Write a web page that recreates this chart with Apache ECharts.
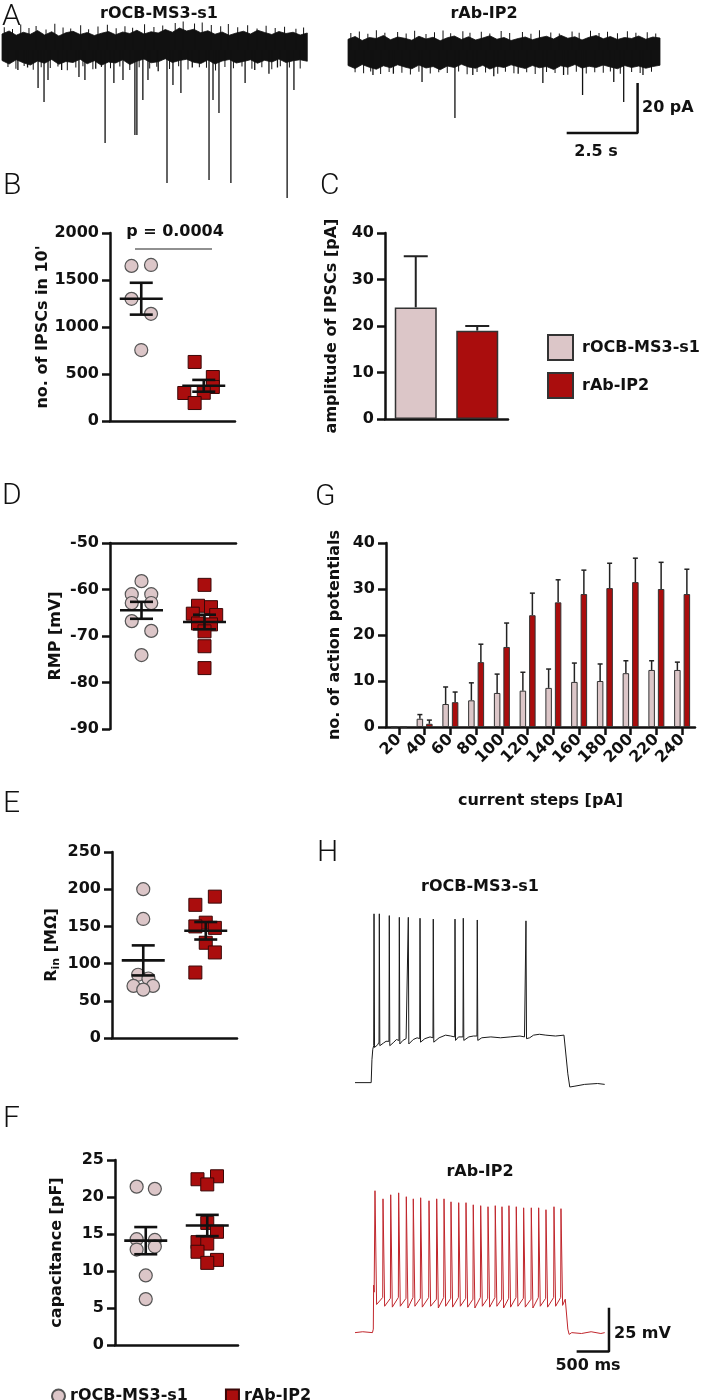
<!DOCTYPE html>
<html><head><meta charset="utf-8">
<script src="https://cdn.jsdelivr.net/npm/echarts@6/dist/echarts.min.js"></script>
<style>html,body{margin:0;padding:0;background:#fff}#c{width:704px;height:1400px}</style>
</head><body><div id="c"></div>
<script>
// ================= DATA =================
// Panel A – spontaneous IPSC traces: noise envelope (pA) sampled every 0.25 s
const aStep = 0.25;
const a1Top = [6.4,7.6,5.9,7.1,6.3,7.8,6.0,7.3,5.6,6.9,7.5,6.2,7.0,5.8,6.7,7.4,6.1,7.2,6.6,7.9,6.4,7.3,6.8,8.2,7.1,8.8,7.6,8.3,6.9,7.7,6.3,7.2,5.9,6.8,7.5,6.4,7.9,7.0,6.2,7.4,6.6,7.1,6.0,6.8];
const a1Bot = [-4.2,-5.6,-3.9,-5.1,-6.0,-4.4,-5.3,-3.8,-5.7,-4.6,-5.0,-3.7,-5.5,-4.3,-6.1,-4.8,-5.2,-3.9,-5.8,-4.5,-3.6,-5.1,-4.7,-3.5,-5.0,-4.2,-3.7,-4.9,-5.4,-4.0,-5.6,-4.4,-3.8,-5.2,-4.6,-3.9,-5.3,-4.1,-4.8,-3.6,-5.0,-4.3,-3.9,-4.5];
const a1NoiseT = [0.08,0.21,0.37,0.49,0.66,0.78,0.95,1.1,1.2,1.38,1.55,1.7,1.86,1.97,2.15,2.3,2.42,2.6,2.77,2.85,3.05,3.2,3.38,3.5,3.71,3.82,4.02,4.15,4.33,4.5,4.6,4.83,5.02,5.2,5.35,5.45,5.66,5.9,6.1,6.22,6.38,6.55,6.78,6.95,7.05,7.2,7.37,7.52,7.7,7.85,7.97,8.15,8.3,8.45,8.65,8.8,8.98,9.15,9.3,9.5,9.62,9.8,9.95,10.12,10.35,10.5,10.62];
const a1NoiseV = [9.1,-6.8,8.4,-7.5,10.2,-6.4,8.8,-7.9,9.6,-6.9,8.2,-7.2,10.5,-6.6,9.0,-8.1,8.6,-7.0,9.9,-6.5,8.3,-7.7,9.4,-6.8,10.1,-7.3,8.7,-6.6,9.5,-8.0,8.9,-6.9,10.3,-7.4,9.2,-6.7,9.8,-7.6,10.8,-6.5,11.4,-7.8,10.6,-6.9,11.0,-7.1,10.0,-8.2,9.5,-6.8,10.4,-7.3,9.1,-6.6,9.9,-7.5,8.6,-6.9,9.7,-7.7,8.8,-6.5,9.3,-7.0,8.5,-7.4,9.0];
const a1SpikeT = [0.56,0.9,1.27,1.48,1.62,2.1,2.71,2.92,3.3,3.63,3.94,4.26,4.68,4.75,4.96,5.14,5.5,5.81,6.02,6.3,6.7,7.29,7.43,7.64,8.06,8.56,8.9,9.4,9.7,10.04,10.28];
const a1SpikeAmp = [-8,-7,-15.2,-20.8,-12,-8,-10.8,-12,-7.5,-37.2,-13.2,-12,-34,-34,-20,-12,-8.5,-53.2,-14,-17.2,-7,-52,-20,-25.2,-53.2,-13.2,-8,-9.5,-7,-59.2,-16];
const a2Top = [4.3,5.4,3.8,5.0,4.6,5.8,4.1,5.2,4.7,3.9,5.5,4.4,5.1,3.7,4.9,5.6,4.2,5.3,4.0,4.8,5.7,4.3,5.0,3.8,4.6,5.2,4.1,4.9,5.5,4.4,5.9,4.7,5.3,4.0,5.1,5.8,4.5,5.4,4.2,5.0,4.6,5.6,4.3,5.2,4.8];
const a2Bot = [-6.2,-7.4,-5.8,-6.9,-7.7,-6.3,-7.1,-5.9,-6.8,-7.5,-6.0,-7.2,-6.6,-7.9,-6.4,-7.0,-5.7,-6.8,-7.3,-6.1,-7.6,-6.5,-7.0,-5.9,-6.7,-7.4,-6.2,-7.1,-6.6,-7.8,-6.3,-6.9,-5.8,-7.2,-6.5,-7.0,-6.0,-6.8,-7.5,-6.2,-7.0,-6.4,-7.3,-6.6,-6.1];
const a2NoiseT = [0.1,0.25,0.4,0.55,0.7,0.8,1.0,1.15,1.3,1.45,1.75,1.9,2.05,2.2,2.35,2.5,2.75,2.9,3.05,3.2,3.35,3.5,3.62,3.9,4.05,4.2,4.3,4.55,4.7,4.85,5.0,5.28,5.4,5.55,5.7,5.85,6.15,6.3,6.45,6.6,6.75,7.0,7.15,7.3,7.45,7.75,7.9,8.05,8.15,8.4,8.55,8.7,8.85,9.0,9.15,9.25,9.5,9.6,9.85,10.0,10.15,10.3,10.55,10.7,10.85];
const a2NoiseV = [6.8,-8.9,7.4,-9.3,6.5,-8.6,7.9,-9.6,6.9,-8.8,7.2,-9.1,6.6,-9.8,7.7,-8.7,6.4,-9.4,7.1,-8.9,7.8,-9.2,6.7,-8.6,7.5,-9.7,6.9,-8.8,7.3,-9.0,6.6,-9.5,7.6,-8.7,6.8,-9.3,7.2,-8.9,6.5,-9.6,7.9,-8.8,7.0,-9.2,6.6,-9.9,7.4,-8.7,6.9,-9.4,7.7,-8.9,6.8,-9.1,7.3,-8.6,6.7,-9.5,7.5,-8.8,6.9,-9.2,7.1,-8.7,6.6];
const a2SpikeT = [0.88,1.6,2.61,3.77,4.4,5.14,6.0,6.87,7.6,8.27,9.37,9.72,10.4];
const a2SpikeAmp = [-10,-9.5,-12.8,-27.2,-10,-10.5,-9.5,-13.2,-10,-18,-12.8,-20.8,-10];
const scaleA = {t: 10.21, i: -33.2, dt: 2.5, di: 20};   // 2.5 s / 20 pA

// Panel B – no. of IPSCs in 10'
const bOcb = [1650, 1660, 1300, 1140, 755];
const bAb  = [628, 468, 362, 300, 298, 191];
const pText = 'p = 0.0004', pLevel = 1830;
// Panel C – amplitude of IPSCs [pA]
const cMean = [24, 19];
const cSem  = [11, 1];
// Panel D – RMP [mV]
const dOcb = [-58.2, -61, -61, -62.9, -62.9, -66.8, -68.9, -74.1];
const dAb  = [-59, -63.5, -63.8, -65.2, -65.5, -67.3, -67.5, -69, -72.2, -76.9];
// Panel E – Rin [MΩ]
const eOcb = [200, 160, 85, 80, 70, 70, 65];
const eAb  = [190, 179, 155, 150, 148, 128, 115, 88];
// Panel F – capacitance [pF]
const fOcb = [21.4, 21.1, 14.3, 14.2, 13.3, 12.9, 9.4, 6.2];
const fAb  = [22.8, 22.4, 21.7, 16.5, 15.3, 13.9, 13.7, 12.6, 11.5, 11.1];
// Panel G – no. of action potentials vs current steps
const gSteps = ['20','40','60','80','100','120','140','160','180','200','220','240'];
const gOcb    = [0, 1.8, 5.0, 5.8, 7.4, 7.9, 8.5, 9.8, 10.0, 11.7, 12.4, 12.4];
const gOcbErr = [0, 0.9, 3.7, 3.8, 4.1, 4.0, 4.1, 4.1, 3.7, 2.7, 2.0, 1.7];
const gAb     = [0, 0.7, 5.4, 14.1, 17.4, 24.3, 27.1, 28.9, 30.2, 31.5, 30.0, 28.9];
const gAbErr  = [0, 0.8, 2.2, 3.9, 5.2, 4.8, 4.9, 5.2, 5.4, 5.2, 5.8, 5.4];
// Panel H – current-clamp traces (ms, mV)
const hOcbPlatT = [0,250,262,275,350,440,480,600,640,740,790,900,960,1080,1160,1300,1400,1480,1600,1760,1830,1960,2100,2250,2400,2550,2620,2700,2760,2850,2950,3100,3230,3255,3290,3320,3400,3550,3750,3860];
const hOcbPlatV = [-65,-65,-52,-46,-43.5,-42.5,-41.5,-42,-40.5,-41,-40,-40.5,-39.5,-40,-39,-39.5,-38,-38.5,-39,-39,-38.5,-39.5,-39,-39.5,-39,-38.5,-39,-39.5,-38,-37.5,-38,-38.5,-38,-39,-60,-67.5,-67,-66,-65.5,-66];
const hOcbSpikeT = [294,376,530,685,824,1005,1210,1546,1674,1890,2643];
const hOcbThr    = [-44,-42,-41.5,-41,-40.5,-40,-39.5,-39,-39,-38.5,-38.5];
const hOcbPeak   = [31,31,30,29,29,28.5,28,28,28.5,27.5,27];
const hOcbTrough = [-45,-44,-44,-43,-43,-42,-42,-41,-41,-41,-40];
const hAbPlatT = [0,120,270,283,288,296,3250,3272,3290,3310,3350,3500,3650,3800,3860];
const hAbPlatV = [-65,-64.5,-65,-63,-38,-42,-46,-47,-63,-66,-65,-65.5,-64.5,-65.5,-65];
const hAbSpikeT = [309,433,552,675,793,901,1015,1144,1263,1376,1484,1603,1716,1828,1943,2056,2168,2272,2380,2493,2607,2725,2839,2952,3076,3184];
const hAbThr    = [-42,-45,-45.5,-45,-45.5,-45,-45.5,-45,-46,-45,-45.5,-45,-45.5,-46,-45,-45.5,-45,-46,-45.5,-45,-45.5,-46,-45,-45.5,-45,-45];
const hAbPeak   = [15.7,11.1,13.4,14.5,12.3,11.1,11.7,10,11.1,11.1,9.4,8.9,8.9,7.7,7.2,6.6,7.2,6.6,7.2,6.6,6,6,6,4.9,6.6,5.5];
const hAbTrough = [-49,-50,-50.5,-50,-51,-50,-50.5,-50,-51,-50,-50.5,-50,-50.5,-51,-50,-50.5,-50,-51,-50.5,-50,-50.5,-51,-50,-50.5,-50,-49.5];
const scaleH = {t: 3926, v: -75.8, dt: 500, dv: 25};   // 500 ms / 25 mV

// ================= LAYOUT (jitter slots in marker widths) =================
const bOcbSlot = [-0.75, 0.75, -0.75, 0.75, 0];
const bAbSlot  = [-0.7, 0.7, 0.7, 0, -1.5, -0.7];
const dOcbSlot = [0, -0.75, 0.75, -0.75, 0.75, -0.75, 0.75, 0];
const dAbSlot  = [0, -0.5, 0.5, -0.9, 0.9, -0.5, 0.5, 0, 0, 0];
const eOcbSlot = [0, 0, -0.4, 0.4, -0.75, 0.75, 0];
const eAbSlot  = [0.7, -0.8, 0, -0.8, 0.7, 0, 0.7, -0.8];
const fOcbSlot = [-0.7, 0.7, -0.7, 0.7, 0.7, -0.7, 0, 0];
const fAbSlot  = [0.75, -0.75, 0, 0, 0.75, -0.75, 0, -0.75, 0.75, 0];

const LIGHT = '#dcc6c8', RED = '#aa0d0d', INK = '#111';
const FONT = 'DejaVu Sans';
const LBL = {fontFamily: FONT, fontWeight: 'bold', fontSize: 16, color: INK};
const MS = 13;

const grids = [
  {left: 2,   top: 0,    width: 306, height: 200},  // 0 A1
  {left: 348, top: 0,    width: 312, height: 200},  // 1 A2
  {left: 110, top: 233,  width: 125, height: 188},  // 2 B
  {left: 385, top: 233,  width: 123, height: 186},  // 3 C
  {left: 110, top: 543,  width: 126, height: 186},  // 4 D
  {left: 386, top: 543,  width: 309, height: 184},  // 5 G
  {left: 112, top: 852,  width: 125, height: 186},  // 6 E
  {left: 115, top: 1160, width: 123, height: 185},  // 7 F
  {left: 355, top: 898,  width: 260, height: 211},  // 8 H1
  {left: 355, top: 1148, width: 260, height: 211}   // 9 H2
];

// ================= HELPERS =================
const mean = a => a.reduce((s, v) => s + v, 0) / a.length;
const sem = a => { const m = mean(a); return Math.sqrt(a.reduce((s, v) => s + (v - m) * (v - m), 0) / (a.length - 1) / a.length); };
const AXL = {show: true, onZero: false, lineStyle: {color: INK, width: 2.5}};

function hidden(gi, min, max) { return {type: 'value', gridIndex: gi, min, max, show: false}; }
function valY(gi, min, max, interval, name, nameGap, extra) {
  return Object.assign({
    type: 'value', gridIndex: gi, min, max, interval,
    axisLine: AXL,
    axisTick: {show: true, length: 8, lineStyle: {color: INK, width: 2.5}},
    axisLabel: Object.assign({}, LBL, {margin: 11, formatter: v => String(v)}),
    splitLine: {show: false},
    name, nameLocation: 'middle', nameGap, nameRotate: 90,
    nameTextStyle: Object.assign({}, LBL)
  }, extra || {});
}
function plainX(gi, extra) {
  return Object.assign({type: 'value', gridIndex: gi, min: 0, max: 1, axisLine: AXL,
    axisTick: {show: false}, axisLabel: {show: false}, splitLine: {show: false}}, extra || {});
}
function dots(gi, vals, slots, gx, kind) {
  const unit = MS / grids[gi].width;
  const ocb = kind === 'ocb';
  return {type: 'scatter', name: ocb ? 'ocbDots' : 'abDots', xAxisIndex: gi, yAxisIndex: gi,
    symbol: ocb ? 'circle' : 'rect', symbolSize: MS, z: 2, silent: true,
    data: vals.map((v, i) => [gx + slots[i] * unit, v]),
    itemStyle: ocb ? {color: LIGHT, borderColor: '#555', borderWidth: 1.2, opacity: 1}
                   : {color: RED, borderColor: '#3a0808', borderWidth: 1, opacity: 1}};
}
function meanSem(gi, groups) {
  return {type: 'custom', coordinateSystem: 'cartesian2d', xAxisIndex: gi, yAxisIndex: gi, z: 5, silent: true,
    data: groups.map(g => [g[0], mean(g[1]), sem(g[1])]),
    renderItem: (p, api) => {
      const x = api.value(0), m = api.value(1), s = api.value(2);
      const c = api.coord([x, m]), t = api.coord([x, m + s]), b = api.coord([x, m - s]);
      const st = {stroke: INK, lineWidth: 2.6};
      return {type: 'group', children: [
        {type: 'line', shape: {x1: c[0] - 21.5, y1: c[1], x2: c[0] + 21.5, y2: c[1]}, style: st},
        {type: 'line', shape: {x1: c[0], y1: t[1], x2: c[0], y2: b[1]}, style: st},
        {type: 'line', shape: {x1: c[0] - 11.5, y1: t[1], x2: c[0] + 11.5, y2: t[1]}, style: st},
        {type: 'line', shape: {x1: c[0] - 11.5, y1: b[1], x2: c[0] + 11.5, y2: b[1]}, style: st}
      ]};
    }};
}
function errBars(gi, vals, errs, offset, capHalf, lw) {
  return {type: 'custom', coordinateSystem: 'cartesian2d', xAxisIndex: gi, yAxisIndex: gi, z: 1, silent: true,
    encode: {x: 0, y: 1},
    data: vals.map((v, i) => [i, v, errs[i]]),
    renderItem: (p, api) => {
      const e = api.value(2); if (!e) return;
      const b = api.coord([api.value(0), api.value(1)]);
      const t = api.coord([api.value(0), api.value(1) + e]);
      const x = b[0] + offset, st = {stroke: '#222', lineWidth: lw};
      return {type: 'group', children: [
        {type: 'line', shape: {x1: x, y1: b[1], x2: x, y2: t[1]}, style: st},
        {type: 'line', shape: {x1: x - capHalf, y1: t[1], x2: x + capHalf, y2: t[1]}, style: st}
      ]};
    }};
}
function band(gi, tops, bots) {
  return {type: 'custom', coordinateSystem: 'cartesian2d', xAxisIndex: gi, yAxisIndex: gi, silent: true,
    data: tops.map((v, i) => [i * aStep, v, bots[i]]),
    renderItem: (p, api) => {
      if (p.dataIndex !== 0) return;
      const up = tops.map((v, i) => api.coord([i * aStep, v]));
      const dn = bots.map((v, i) => api.coord([i * aStep, v])).reverse();
      return {type: 'polygon', shape: {points: up.concat(dn)}, style: {fill: INK, stroke: INK, lineWidth: 0.8}};
    }};
}
// vertical deflections (events / noise) drawn from the band core to their peak value
function strokes(gi, ts, amps, lw) {
  return {type: 'custom', coordinateSystem: 'cartesian2d', xAxisIndex: gi, yAxisIndex: gi, silent: true,
    data: ts.map((t, i) => [t, amps[i]]),
    renderItem: (p, api) => {
      const a = api.coord([api.value(0), 0]), b = api.coord([api.value(0), api.value(1)]);
      return {type: 'line', shape: {x1: a[0], y1: a[1], x2: b[0], y2: b[1]}, style: {stroke: INK, lineWidth: lw}};
    }};
}
function trace(platT, platV, spT, thr, pk, tr, fallMs) {
  const pts = platT.map((t, i) => [t, platV[i]]);
  spT.forEach((t, i) => { pts.push([t - 5, thr[i]], [t, pk[i]], [t + fallMs, tr[i]]); });
  pts.sort((a, b) => a[0] - b[0]);
  return pts;
}
function scaleBar(gi, x0, y0, dx, dy) {
  return {type: 'line', xAxisIndex: gi, yAxisIndex: gi, symbol: 'none', silent: true,
    data: [[x0 - dx, y0], [x0, y0], [x0, y0 + dy]], lineStyle: {color: INK, width: 2.5}};
}
function txt(text, x, y, font, align) {
  return {type: 'text', x, y, silent: true, style: {text, font, fill: INK, align: align || 'left', verticalAlign: 'middle'}};
}

// ================= OPTION =================
const BFONT = 'bold 16px "DejaVu Sans"';
const PFONT = '300 30px Roboto';
const option = {
  animation: false,
  grid: grids,
  xAxis: [
    hidden(0, 0, 10.775), hidden(1, 0, 11),
    plainX(2),
    {type: 'category', gridIndex: 3, data: ['rOCB-MS3-s1', 'rAb-IP2'], axisLine: AXL, axisTick: {show: false}, axisLabel: {show: false}},
    plainX(4, {position: 'top'}),
    {type: 'category', gridIndex: 5, data: gSteps, axisLine: AXL,
     axisTick: {show: true, alignWithLabel: true, length: 8, lineStyle: {color: INK, width: 2.5}},
     axisLabel: Object.assign({}, LBL, {rotate: 45, margin: 10, interval: 0}),
     name: 'current steps [pA]', nameLocation: 'middle', nameGap: 66, nameTextStyle: Object.assign({}, LBL)},
    plainX(6), plainX(7),
    hidden(8, 0, 4019), hidden(9, 0, 4019)
  ],
  yAxis: [
    hidden(0, -60, 20), hidden(1, -60, 20),
    valY(2, 0, 2000, 500, "no. of IPSCs in 10'", 57),
    valY(3, 0, 40, 10, 'amplitude of IPSCs [pA]', 45),
    valY(4, -90, -50, 10, 'RMP [mV]', 46),
    valY(5, 0, 40, 10, 'no. of action potentials', 43),
    valY(6, 0, 250, 50, '{r|R}{s|in}{r| [MΩ]}', 50, {nameTextStyle: {rich: {
      r: Object.assign({}, LBL), s: Object.assign({}, LBL, {fontSize: 11, padding: [10, 0, 0, 0]})}}}),
    valY(7, 0, 25, 5, 'capacitance [pF]', 50),
    hidden(8, -80, 40), hidden(9, -80, 40)
  ],
  legend: [
    {orient: 'vertical', left: 542, top: 329, itemWidth: 25, itemHeight: 25, itemGap: 11, selectedMode: false,
     icon: 'rect', data: ['rOCB-MS3-s1', 'rAb-IP2'], textStyle: Object.assign({}, LBL, {padding: [0, 0, 0, 4]})},
    {orient: 'horizontal', left: 46, top: 1383, itemWidth: 13, itemHeight: 13, itemGap: 37, selectedMode: false,
     data: [{name: 'ocbDots', icon: 'circle'}, {name: 'abDots', icon: 'rect'}],
     formatter: n => n === 'ocbDots' ? 'rOCB-MS3-s1' : 'rAb-IP2', textStyle: Object.assign({}, LBL)}
  ],
  series: [
    // A
    band(0, a1Top, a1Bot), strokes(0, a1NoiseT, a1NoiseV, 1), strokes(0, a1SpikeT, a1SpikeAmp, 1.3),
    band(1, a2Top, a2Bot), strokes(1, a2NoiseT, a2NoiseV, 1), strokes(1, a2SpikeT, a2SpikeAmp, 1.3),
    scaleBar(1, scaleA.t, scaleA.i, scaleA.dt, scaleA.di),
    // C bars
    {type: 'bar', name: 'rOCB-MS3-s1', xAxisIndex: 3, yAxisIndex: 3, stack: 'c', barWidth: 42,
     data: [cMean[0], '-'], itemStyle: {color: LIGHT, borderColor: '#333', borderWidth: 1.5}},
    {type: 'bar', name: 'rAb-IP2', xAxisIndex: 3, yAxisIndex: 3, stack: 'c', barWidth: 42,
     data: ['-', cMean[1]], itemStyle: {color: RED, borderColor: '#333', borderWidth: 1.5}},
    errBars(3, cMean, cSem, 0, 12, 2),
    // B
    dots(2, bOcb, bOcbSlot, 0.25, 'ocb'), dots(2, bAb, bAbSlot, 0.75, 'ab'),
    meanSem(2, [[0.25, bOcb], [0.75, bAb]]),
    {type: 'line', xAxisIndex: 2, yAxisIndex: 2, symbol: 'none', silent: true,
     data: [[0.2, pLevel], [0.816, pLevel]], lineStyle: {color: '#222', width: 1.2}},
    // D
    dots(4, dOcb, dOcbSlot, 0.25, 'ocb'), dots(4, dAb, dAbSlot, 0.75, 'ab'),
    meanSem(4, [[0.25, dOcb], [0.75, dAb]]),
    // E
    dots(6, eOcb, eOcbSlot, 0.25, 'ocb'), dots(6, eAb, eAbSlot, 0.75, 'ab'),
    meanSem(6, [[0.25, eOcb], [0.75, eAb]]),
    // F
    dots(7, fOcb, fOcbSlot, 0.25, 'ocb'), dots(7, fAb, fAbSlot, 0.75, 'ab'),
    meanSem(7, [[0.25, fOcb], [0.75, fAb]]),
    // G
    {type: 'bar', name: 'rOCB-MS3-s1', xAxisIndex: 5, yAxisIndex: 5, barWidth: 6.5, barGap: '46%',
     data: gOcb, itemStyle: {color: LIGHT, borderColor: '#333', borderWidth: 1}},
    {type: 'bar', name: 'rAb-IP2', xAxisIndex: 5, yAxisIndex: 5, barWidth: 6.5, barGap: '46%',
     data: gAb, itemStyle: {color: RED, borderColor: '#333', borderWidth: 1}},
    errBars(5, gOcb, gOcbErr, -4.75, 2.5, 1.5),
    errBars(5, gAb, gAbErr, 4.75, 2.5, 1.5),
    // H
    {type: 'line', xAxisIndex: 8, yAxisIndex: 8, symbol: 'none', silent: true,
     data: trace(hOcbPlatT, hOcbPlatV, hOcbSpikeT, hOcbThr, hOcbPeak, hOcbTrough, 8),
     lineStyle: {color: '#1a1a1a', width: 1}},
    {type: 'line', xAxisIndex: 9, yAxisIndex: 9, symbol: 'none', silent: true,
     data: trace(hAbPlatT, hAbPlatV, hAbSpikeT, hAbThr, hAbPeak, hAbTrough, 25),
     lineStyle: {color: '#c0262c', width: 1}},
    scaleBar(9, scaleH.t, scaleH.v, scaleH.dt, scaleH.dv)
  ],
  graphic: [
    txt('A', 2, 17, PFONT), txt('B', 3, 186, PFONT), txt('C', 320, 186, PFONT),
    txt('D', 2, 496, PFONT), txt('G', 315, 497, PFONT), txt('E', 3, 804, PFONT),
    txt('H', 317, 853, PFONT), txt('F', 3, 1119, PFONT),
    txt('rOCB-MS3-s1', 159, 14, BFONT, 'center'), txt('rAb-IP2', 484, 14, BFONT, 'center'),
    txt('rOCB-MS3-s1', 480, 887, BFONT, 'center'), txt('rAb-IP2', 480, 1172, BFONT, 'center'),
    txt(pText, 175, 232, BFONT, 'center'),
    txt('20 pA', 642, 108, BFONT), txt('2.5 s', 596, 152, BFONT, 'center'),
    txt('25 mV', 614, 1334, BFONT), txt('500 ms', 588, 1366, BFONT, 'center')
  ]
};
const chart = echarts.init(document.getElementById('c'), null, {renderer: 'canvas', width: 704, height: 1400});
chart.setOption(option);
</script></body></html>
